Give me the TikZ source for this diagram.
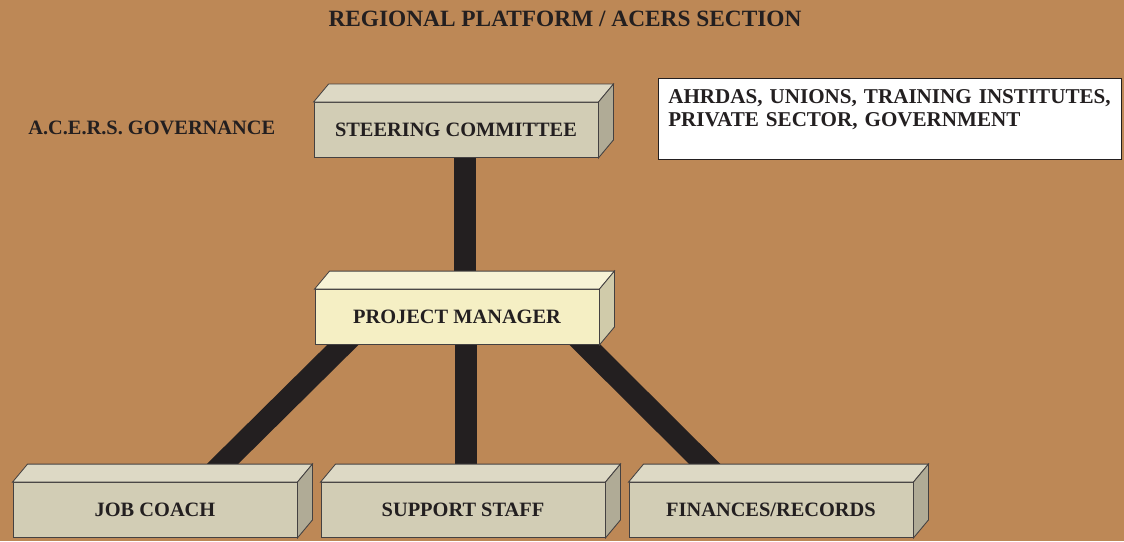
\documentclass[tikz,border=0pt]{standalone}
\usepackage{fontspec}
\setmainfont{Liberation Serif}
\usetikzlibrary{calc,backgrounds}

\definecolor{board}{RGB}{189,136,86}
\definecolor{ink}{RGB}{35,31,32}
\definecolor{slabfront}{RGB}{210,205,181}
\definecolor{slabtop}{RGB}{221,217,197}
\definecolor{slabside}{RGB}{176,171,150}
\definecolor{pmfront}{RGB}{245,239,196}
\definecolor{pmtop}{RGB}{247,243,214}
\definecolor{pmside}{RGB}{208,203,170}

\tikzset{
    slab/.style={rectangle, draw=ink!85, line width=0.6pt, fill=slabfront,
        minimum width=7.1cm, minimum height=1.375cm, inner sep=0pt,
        font=\fontsize{14.5}{17}\selectfont\bfseries, text=ink},
    bar/.style={draw=ink, line width=0.55cm},
    label/.style={font=\fontsize{14.5}{17}\selectfont\bfseries, text=ink, inner sep=0pt}
}

\begin{document}
\begin{tikzpicture}[x=0.025cm, y=-0.025cm]
        \begin{pgfonlayer}{background}
            \fill[board] (0,0) rectangle (1124,541);
        \end{pgfonlayer}
        \useasboundingbox (0,0) rectangle (1124,541);

        \node[label, font=\fontsize{16.6}{19}\selectfont\bfseries] (title) at (565,19)
            {REGIONAL PLATFORM / ACERS SECTION};
        \node[label, anchor=west] (gov) at (28,128) {A.C.E.R.S. GOVERNANCE};

        \node[slab] (sc) at (456,130) {STEERING COMMITTEE};
        \node[slab, fill=pmfront] (pm) at (457,317) {PROJECT MANAGER};
        \node[slab] (job) at (155,510) {JOB COACH};
        \node[slab] (staff) at (463,510) {SUPPORT STAFF};
        \node[slab] (fin) at (771,510) {FINANCES/RECORDS};

        \node[rectangle, draw=ink, fill=white, line width=0.8pt, minimum width=11.575cm,
            minimum height=2.025cm, anchor=north west] (partners) at (658,78) {};
        \node[label, font=\fontsize{15}{17}\selectfont\bfseries, anchor=north west,
            text width=11.3cm, align=left] (partnerstext) at ([xshift=0.25cm, yshift=-0.27cm]partners.north west)
            {AHRDAS, UNIONS, TRAINING INSTITUTES,\\ PRIVATE SECTOR, GOVERNMENT};

        % depth faces of the slabs
        \foreach \n/\t/\s in {sc/slabtop/slabside, pm/pmtop/pmside, job/slabtop/slabside,
                staff/slabtop/slabside, fin/slabtop/slabside}{
            \filldraw[fill=\t, draw=ink!85, line width=0.6pt] (\n.north west) -- ++(15,-18)
                -- ($(\n.north east)+(15,-18)$) -- (\n.north east) -- cycle;
            \filldraw[fill=\s, draw=ink!85, line width=0.6pt] (\n.north east) -- ++(15,-18)
                -- ($(\n.south east)+(15,-18)$) -- (\n.south east) -- cycle;
        }

        \begin{pgfonlayer}{background}
            \draw[bar] ($(sc.south)+(9,-10)$) -- ($(pm.north)+(8,10)$);
            \draw[bar] ($(pm.south)+(-94,-20)$) -- ($(job.north)+(32,17)$);
            \draw[bar] ($(pm.south)+(9,-10)$) -- ($(staff.north)+(3,10)$);
            \draw[bar] ($(pm.south)+(108,-20)$) -- ($(fin.north)+(-31,17)$);
        \end{pgfonlayer}
    \end{tikzpicture}
\end{document}
